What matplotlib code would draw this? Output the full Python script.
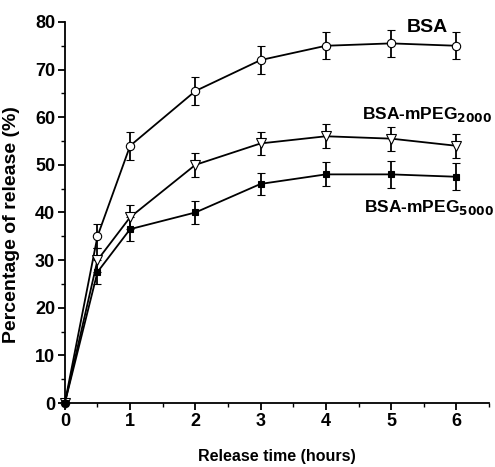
import matplotlib
matplotlib.use('Agg')
import matplotlib.pyplot as plt
from matplotlib.ticker import MultipleLocator

plt.rcParams['font.family'] = 'Liberation Sans'
plt.rcParams['font.weight'] = 'bold'
plt.rcParams['mathtext.default'] = 'bf'

# release profiles (mean +/- error bar)
time_h = [0, 0.5, 1, 2, 3, 4, 5, 6]
bsa = [0, 35, 54, 65.5, 72, 75, 75.5, 75]
bsa_err = [0, 2.5, 3, 3, 3, 2.8, 2.8, 2.8]
peg2000 = [0, 30, 39, 50, 54.5, 56, 55.5, 54]
peg2000_err = [0, 2.5, 2.5, 2.5, 2.5, 2.5, 2.5, 2.5]
peg5000 = [0, 27.5, 36.5, 40, 46, 48, 48, 47.5]
peg5000_err = [0, 2.5, 2.5, 2.5, 2.3, 2.5, 2.8, 2.8]

fig = plt.figure(figsize=(4.95, 4.67), dpi=100)
ax = fig.add_axes([0.131, 0.137, 0.857, 0.816])

common = dict(color='black', lw=1.3, elinewidth=1.3, capsize=3, capthick=1.3,
              mec='black', mew=0.8, clip_on=False)
ax.errorbar(time_h, bsa, yerr=bsa_err, fmt='-o', mfc='white', ms=6, **common)
ax.errorbar(time_h, peg2000, yerr=peg2000_err, fmt='-v', mfc='white', ms=6.5, **common)
ax.errorbar(time_h, peg5000, yerr=peg5000_err, fmt='-s', mfc='black', ms=4.8, **common)

ax.text(5.245, 77.9, 'BSA', fontsize=14, ha='left', va='baseline')
label_kw = dict(fontsize=12.5, ha='left', va='baseline')
ax.text(4.56, 59.6, 'BSA-mPEG$_{2000}$', **label_kw)
ax.text(4.58, 40.2, 'BSA-mPEG$_{5000}$', **label_kw)

ax.set_xlim(0, 6.5)
ax.set_ylim(0, 80)
ax.xaxis.set_major_locator(MultipleLocator(1))
ax.xaxis.set_minor_locator(MultipleLocator(0.5))
ax.yaxis.set_major_locator(MultipleLocator(10))
ax.yaxis.set_minor_locator(MultipleLocator(5))
ax.set_xticks([0, 1, 2, 3, 4, 5, 6])
ax.spines['top'].set_visible(False)
ax.spines['right'].set_visible(False)
for s in ('left', 'bottom'):
    ax.spines[s].set_linewidth(1.3)
ax.tick_params(which='major', length=5, width=1.3, labelsize=13, pad=2)
ax.tick_params(which='minor', length=3, width=1.0)
for lbl in ax.get_xticklabels() + ax.get_yticklabels():
    lbl.set_fontweight('bold')

ax.set_xlabel('Release time (hours)', fontsize=11.5, fontweight='bold', labelpad=14)
ax.set_ylabel('Percentage of release (%)', fontsize=14, fontweight='bold', labelpad=4)
ax.yaxis.set_label_coords(-0.105, 0.467)

fig.savefig('out.png', dpi=100)
